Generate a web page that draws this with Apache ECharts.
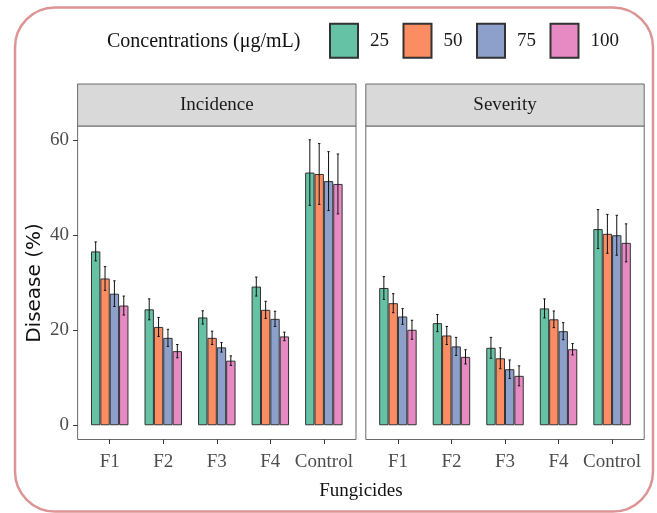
<!DOCTYPE html>
<html>
<head>
<meta charset="utf-8">
<script src="https://cdn.jsdelivr.net/npm/echarts@6/dist/echarts.min.js"></script>
<style>html,body{margin:0;padding:0;background:#fff;}#c{width:657px;height:513px;}</style>
</head>
<body>
<div id="c"></div>
<script>
// ---- data ----
const categories = ['F1', 'F2', 'F3', 'F4', 'Control'];
const concentrations = ['25', '50', '75', '100'];
const panels = ['Incidence', 'Severity'];
const yTicks = [0, 20, 40, 60];

const incidence25  = [36.6, 24.4, 22.7, 29.2, 53.2];
const incidence50  = [30.9, 20.7, 18.4, 24.3, 52.9];
const incidence75  = [27.7, 18.4, 16.4, 22.4, 51.4];
const incidence100 = [25.2, 15.6, 13.6, 18.7, 50.8];
const incidenceErr25  = [2.0, 2.2, 1.4, 2.0, 6.9];
const incidenceErr50  = [2.5, 2.0, 1.4, 1.8, 6.4];
const incidenceErr75  = [2.7, 1.8, 1.0, 1.6, 6.2];
const incidenceErr100 = [2.0, 1.4, 1.0, 0.9, 6.3];

const severity25  = [28.9, 21.5, 16.3, 24.6, 41.3];
const severity50  = [25.7, 18.9, 14.1, 22.3, 40.3];
const severity75  = [22.9, 16.6, 11.8, 19.8, 40.0];
const severity100 = [20.1, 14.4, 10.4, 16.0, 38.4];
const severityErr25  = [2.4, 1.8, 2.2, 2.0, 4.1];
const severityErr50  = [2.0, 1.9, 2.2, 1.75, 4.1];
const severityErr75  = [1.65, 1.9, 1.95, 1.8, 4.2];
const severityErr100 = [2.0, 1.5, 2.1, 1.2, 4.0];

// ---- build ----
const colors = ['#66c2a5', '#fc8d62', '#8da0cb', '#e78ac3'];
const serif = 'Liberation Serif';
const panelData = [
  { vals: [incidence25, incidence50, incidence75, incidence100], errs: [incidenceErr25, incidenceErr50, incidenceErr75, incidenceErr100] },
  { vals: [severity25, severity50, severity75, severity100], errs: [severityErr25, severityErr50, severityErr75, severityErr100] }
];

const W = 278.4;
const frameLeft = [77.6, 365.8];
const frameTop = 126, frameBottom = 439.5;
const yMin = -3, yMax = 63;
const step = W / 5.2;
const inset = 0.1 * step;

const grids = [], xAxes = [], yAxes = [], series = [], graphics = [];
for (let p = 0; p < 2; p++) {
  grids.push({ left: frameLeft[p], width: W, top: frameTop, height: frameBottom - frameTop, show: true, backgroundColor: '#fff', borderColor: '#6a6a6a', borderWidth: 1, z: 0 });
  xAxes.push({ gridIndex: p, type: 'value', show: false });
  yAxes.push({ gridIndex: p, type: 'value', show: false });
}
for (let p = 0; p < 2; p++) {
  const g = 2 + p;
  grids.push({ left: frameLeft[p] + inset, width: 5 * step, top: frameTop, height: frameBottom - frameTop });
  xAxes.push({
    gridIndex: g, type: 'category', data: categories,
    axisLine: { show: false, onZero: false },
    axisTick: { show: true, alignWithLabel: true, length: 4.5, lineStyle: { color: '#333', width: 1 } },
    axisLabel: { interval: 0, margin: 13, fontSize: 19, color: '#4d4d4d', fontFamily: serif }
  });
  yAxes.push({
    gridIndex: g, type: 'value', min: yMin, max: yMax, offset: inset,
    axisLine: { show: false, onZero: false }, splitLine: { show: false },
    axisTick: { show: p === 0, customValues: yTicks, length: 4.5, lineStyle: { color: '#333', width: 1 } },
    axisLabel: { show: p === 0, customValues: yTicks, margin: 8.5, fontSize: 19, color: '#4d4d4d', fontFamily: serif }
  });
  const pd = panelData[p];
  const errData = [];
  for (let j = 0; j < 4; j++) {
    series.push({
      type: 'bar', name: concentrations[j], xAxisIndex: g, yAxisIndex: g,
      data: pd.vals[j], barWidth: '17.5%', barGap: '0%',
      itemStyle: { color: colors[j], borderColor: '#333', borderWidth: 1 },
      emphasis: { disabled: true }, animation: false
    });
    for (let i = 0; i < categories.length; i++) {
      errData.push([i, pd.vals[j][i] - pd.errs[j][i], pd.vals[j][i] + pd.errs[j][i], j]);
    }
  }
  series.push({
    type: 'custom', xAxisIndex: g, yAxisIndex: g, z: 5, animation: false, silent: true,
    data: errData,
    renderItem: function (params, api) {
      const cat = api.value(0), lo = api.value(1), hi = api.value(2), j = api.value(3);
      const band = api.size([1, 0])[0];
      const bw = band * 0.175;
      const a = api.coord([cat, lo]), b = api.coord([cat, hi]);
      const x = a[0] + (j - 1.5) * bw;
      const st = { stroke: '#111', lineWidth: 1 };
      return { type: 'group', children: [
        { type: 'line', shape: { x1: x, y1: a[1], x2: x, y2: b[1] }, style: st },
        { type: 'line', shape: { x1: x - 1.2, y1: a[1], x2: x + 1.2, y2: a[1] }, style: st },
        { type: 'line', shape: { x1: x - 1.2, y1: b[1], x2: x + 1.2, y2: b[1] }, style: st }
      ] };
    }
  });
  // strip
  graphics.push({ type: 'rect', shape: { x: frameLeft[p], y: 84, width: W, height: frameTop - 84 }, style: { fill: '#d9d9d9', stroke: '#6a6a6a', lineWidth: 1 }, z: 1 });
  graphics.push({ type: 'text', x: frameLeft[p] + W / 2, y: 105, style: { text: panels[p], fontSize: 19, fontFamily: serif, fill: '#1a1a1a', align: 'center', verticalAlign: 'middle' }, z: 2 });
}
graphics.push({ type: 'rect', shape: { x: 15, y: 7.5, width: 638, height: 504, r: 40 }, style: { fill: 'none', stroke: '#dc9494', lineWidth: 2.5 }, z: 10 });
graphics.push({ type: 'text', x: 107, y: 42, style: { text: 'Concentrations (μg/mL)', fontSize: 20, fontFamily: serif, fill: '#111', align: 'left', verticalAlign: 'middle' } });
graphics.push({ type: 'text', x: 361, y: 491, style: { text: 'Fungicides', fontSize: 19, fontFamily: serif, fill: '#111', align: 'center', verticalAlign: 'middle' } });
graphics.push({ type: 'text', x: 35, y: 283, rotation: Math.PI / 2, style: { text: 'Disease (%)', fontSize: 20, fontFamily: 'DejaVu Sans', fill: '#111', align: 'center', verticalAlign: 'middle' } });

const chart = echarts.init(document.getElementById('c'), null, { renderer: 'canvas' });
chart.setOption({
  backgroundColor: '#fff',
  animation: false,
  legend: {
    data: concentrations, left: 329, top: 22.7, padding: 0, icon: 'rect', itemWidth: 28, itemHeight: 34, itemGap: 13.5,
    selectedMode: false,
    textStyle: { fontSize: 19, fontFamily: serif, color: '#1a1a1a', padding: [0, 0, 0, 7] }
  },
  grid: grids, xAxis: xAxes, yAxis: yAxes, series: series, graphic: graphics
});
</script>
</body>
</html>
